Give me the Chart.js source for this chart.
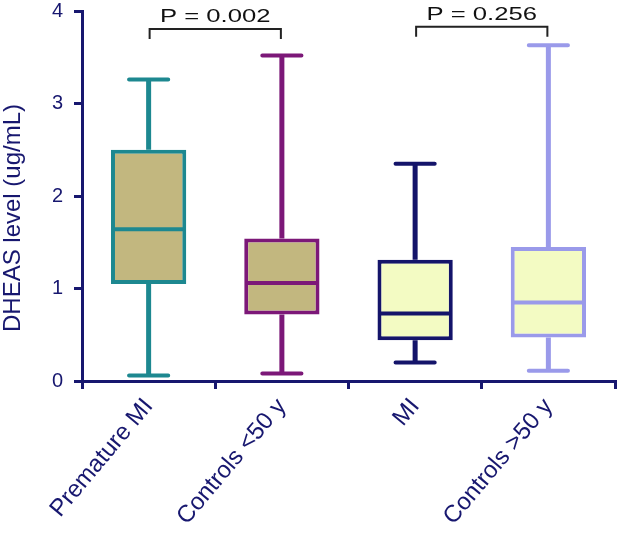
<!DOCTYPE html>
<html>
<head>
<meta charset="utf-8">
<script src="https://cdn.jsdelivr.net/npm/chart.js@4/dist/chart.umd.min.js"></script>
<style>
  html, body { margin: 0; padding: 0; background: #fff; }
  #wrap { width: 618px; height: 541px; position: relative; }
</style>
</head>
<body>
<div id="wrap"><canvas id="c"></canvas></div>
<script>
// ---- data ----
const categories = ['Premature MI', 'Controls <50 y', 'MI', 'Controls >50 y'];
const whiskerMin = [0.06, 0.08, 0.20, 0.11];
const q1 = [1.05, 0.72, 0.44, 0.47];
const median = [1.64, 1.06, 0.73, 0.85];
const q3 = [2.50, 1.54, 1.31, 1.45];
const whiskerMax = [3.26, 3.52, 2.35, 3.63];
const yTicks = [0, 1, 2, 3, 4];
const yTitle = 'DHEAS level (ug/mL)';
const pLabels = ['P = 0.002', 'P = 0.256'];
const pPairs = [[0, 1], [2, 3]];

// ---- styles ----
const navy = '#17176f';
const FONT = '"Liberation Sans", Arial, Helvetica, sans-serif';
const strokeColors = ['#1d8890', '#7c1878', '#14146a', '#9a9aea'];
const fillColors = ['#c2b77f', '#c2b77f', '#f3fbc3', '#f3fbc3'];
const bracketTop = [3.805, 3.83];

const boxPlugin = {
  id: 'boxExtras',
  afterDatasetsDraw(chart) {
    const ctx = chart.ctx;
    const x = chart.scales.x, y = chart.scales.y;
    const meta = chart.getDatasetMeta(0);
    ctx.save();
    categories.forEach((c, i) => {
      const bar = meta.data[i];
      const cx = x.getPixelForValue(i);
      const w = bar.width;
      ctx.strokeStyle = strokeColors[i];
      ctx.lineCap = 'butt';
      // whiskers
      ctx.lineWidth = 5;
      ctx.beginPath();
      ctx.moveTo(cx, y.getPixelForValue(q3[i]));
      ctx.lineTo(cx, y.getPixelForValue(whiskerMax[i]));
      ctx.moveTo(cx, y.getPixelForValue(q1[i]));
      ctx.lineTo(cx, y.getPixelForValue(whiskerMin[i]));
      ctx.stroke();
      // caps
      ctx.lineWidth = 4;
      ctx.lineCap = 'round';
      const capHalf = w * 0.26;
      ctx.beginPath();
      ctx.moveTo(cx - capHalf, y.getPixelForValue(whiskerMax[i]));
      ctx.lineTo(cx + capHalf, y.getPixelForValue(whiskerMax[i]));
      ctx.moveTo(cx - capHalf, y.getPixelForValue(whiskerMin[i]));
      ctx.lineTo(cx + capHalf, y.getPixelForValue(whiskerMin[i]));
      ctx.stroke();
      // median
      ctx.lineCap = 'butt';
      ctx.beginPath();
      ctx.moveTo(cx - w / 2 + 2, y.getPixelForValue(median[i]));
      ctx.lineTo(cx + w / 2 - 2, y.getPixelForValue(median[i]));
      ctx.stroke();
    });
    // brackets
    ctx.strokeStyle = '#222';
    ctx.fillStyle = '#111';
    ctx.lineWidth = 2;
    ctx.lineCap = 'butt';
    ctx.font = '19px ' + FONT;
    ctx.textAlign = 'center';
    ctx.textBaseline = 'alphabetic';
    pPairs.forEach((p, k) => {
      const xa = x.getPixelForValue(p[0]) + 1;
      const xb = x.getPixelForValue(p[1]) - 1;
      const yt = y.getPixelForValue(bracketTop[k]);
      ctx.beginPath();
      ctx.moveTo(xa, yt + 10);
      ctx.lineTo(xa, yt);
      ctx.lineTo(xb, yt);
      ctx.lineTo(xb, yt + 10);
      ctx.stroke();
      ctx.save();
      ctx.translate((xa + xb) / 2, yt - 7);
      ctx.scale(1.35, 1);
      ctx.fillText(pLabels[k], 0, 0);
      ctx.restore();
    });
    // y-axis title
    const a = chart.chartArea;
    ctx.save();
    ctx.fillStyle = navy;
    ctx.font = '24px ' + FONT;
    ctx.textAlign = 'center';
    ctx.textBaseline = 'middle';
    ctx.translate(13, (a.top + a.bottom) / 2 + 22);
    ctx.rotate(-Math.PI / 2);
    ctx.fillText(yTitle, 0, 0);
    ctx.restore();
    ctx.restore();
  }
};

new Chart(document.getElementById('c'), {
  type: 'bar',
  data: {
    labels: categories,
    datasets: [{
      data: categories.map((c, i) => [q1[i], q3[i]]),
      backgroundColor: fillColors,
      borderColor: strokeColors,
      borderWidth: 4,
      borderSkipped: false,
      barPercentage: 0.565,
      categoryPercentage: 1.0
    }]
  },
  options: {
    responsive: true,
    maintainAspectRatio: false,
    animation: false,
    devicePixelRatio: 1,
    layout: { padding: { top: 11, right: 3, left: 0, bottom: 0 } },
    plugins: { legend: { display: false }, tooltip: { enabled: false } },
    scales: {
      x: {
        grid: { display: true, drawOnChartArea: false, drawTicks: true, tickLength: 8, color: navy, lineWidth: 3 },
        border: { display: true, color: navy, width: 3 },
        ticks: {
          color: navy, minRotation: 50, maxRotation: 50, padding: 4,
          font: { family: FONT, size: 24 }
        },
        afterFit(s) { s.height = 160; s.paddingLeft = 0; s.paddingRight = 0; }
      },
      y: {
        min: 0, max: 4,
        afterBuildTicks(s) { s.ticks = yTicks.map(v => ({ value: v })); },
        grid: { display: true, drawOnChartArea: false, drawTicks: true, tickLength: 8, color: navy, lineWidth: 3 },
        border: { display: true, color: navy, width: 3 },
        ticks: {
          color: navy, padding: 11,
          font: { family: FONT, size: 20 }
        },
        title: { display: false },
        afterFit(s) { s.width = 82; s.paddingTop = 0; s.paddingBottom = 0; }
      }
    }
  },
  plugins: [boxPlugin]
});
</script>
</body>
</html>
